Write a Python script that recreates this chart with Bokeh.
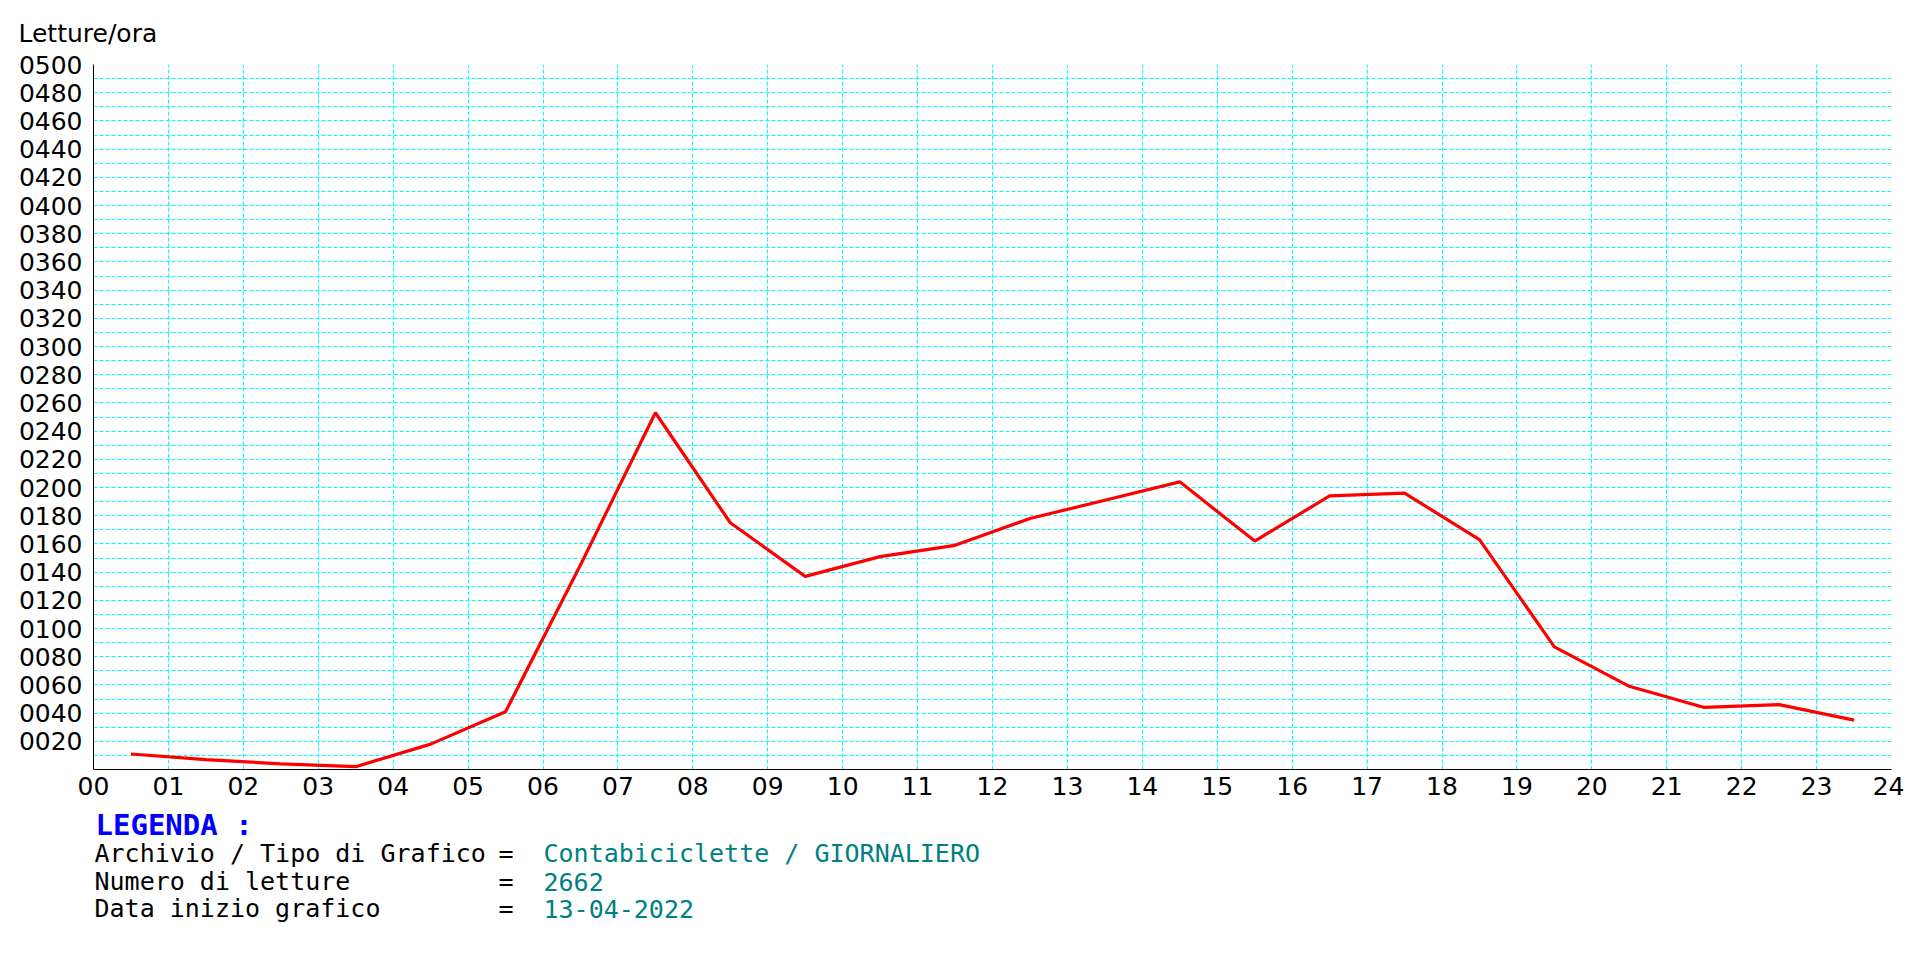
from bokeh.plotting import figure
from bokeh.layouts import column
from bokeh.models import Range1d, FixedTicker, Title
from bokeh.core.properties import value
from bokeh.embed import file_html
from bokeh.resources import INLINE

# ---- data ----
hours = [h + 0.5 for h in range(24)]
letture = [11, 7, 4, 2, 18, 41, 145, 253, 175, 137, 151, 159,
           178, 191, 204, 162, 194, 196, 163, 87, 59, 44, 46, 35]
x_ticks = list(range(0, 25))
x_labels = ["%02d" % h for h in x_ticks]
y_ticks = list(range(20, 501, 20))
y_minor = list(range(10, 500, 20))
y_labels = ["%04d" % v for v in y_ticks]

title_text = "Letture/ora"
legend_title = "LEGENDA :"
legend_keys = ["Archivio / Tipo di Grafico", "Numero di letture", "Data inizio grafico"]
legend_vals = ["Contabiciclette / GIORNALIERO", "2662", "13-04-2022"]

W = 1904
BL, BR = 93, 13
p = figure(width=W, height=804, output_backend="svg", toolbar_location=None,
           x_range=Range1d(0, 24), y_range=Range1d(0, 500),
           min_border_left=BL, min_border_right=BR,
           min_border_top=59, min_border_bottom=35)
p.outline_line_color = None

# title
p.title = Title(text=title_text, align="left", offset=-75, standoff=33,
                text_font="DejaVu Sans", text_font_size="25px",
                text_font_style="normal", text_color="black")

# axes
p.xaxis.ticker = FixedTicker(ticks=x_ticks)
p.xaxis.major_label_overrides = {t_: l for t_, l in zip(x_ticks, x_labels)}
p.yaxis.ticker = FixedTicker(ticks=y_ticks, minor_ticks=y_minor)
p.yaxis.major_label_overrides = {t_: l for t_, l in zip(y_ticks, y_labels)}
for ax in (p.xaxis, p.yaxis):
    ax.major_tick_line_color = None
    ax.minor_tick_line_color = None
    ax.major_tick_out = 0
    ax.major_tick_in = 0
    ax.minor_tick_out = 0
    ax.minor_tick_in = 0
    ax.axis_line_color = "black"
    ax.axis_line_width = 1
    ax.major_label_text_font = "DejaVu Sans"
    ax.major_label_text_font_size = "25px"
    ax.major_label_text_color = "black"
p.xaxis.major_label_standoff = 7
p.yaxis.major_label_standoff = 11

# grid
p.xgrid.ticker = FixedTicker(ticks=x_ticks)
p.ygrid.ticker = FixedTicker(ticks=y_ticks, minor_ticks=y_minor)
for g in (p.xgrid, p.ygrid):
    g.grid_line_color = "#00FFFF"
    g.grid_line_dash = "4 2"
    g.grid_line_width = 1
p.ygrid.minor_grid_line_color = "#00FFFF"
p.ygrid.minor_grid_line_dash = "4 2"
p.ygrid.minor_grid_line_width = 1

# series
p.line(hours, letture, line_color="#FF0000", line_width=3.2)

# ---- legend block (separate figure, page-pixel x, y from top) ----
LH = 140
q = figure(width=W, height=LH, output_backend="svg", toolbar_location=None,
           x_range=Range1d(BL, W - BR), y_range=Range1d(LH, 0),
           min_border_left=BL, min_border_right=BR,
           min_border_top=0, min_border_bottom=0)
q.axis.visible = False
q.grid.visible = False
q.outline_line_color = None

mono = value("DejaVu Sans Mono")
q.text(x=[95], y=[20], text=[legend_title], text_font=mono,
       text_font_size="29px", text_font_style="bold", text_color="#0000FF",
       text_baseline="middle")
rows_y = [49, 77, 104]
q.text(x=[94] * 3, y=rows_y, text=legend_keys, text_font=mono,
       text_font_size="25px", text_color="black", text_baseline="middle")
q.text(x=[498] * 3, y=rows_y, text=["="] * 3, text_font=mono,
       text_font_size="25px", text_color="black", text_baseline="middle")
q.text(x=[543] * 3, y=rows_y, text=legend_vals, text_font=mono,
       text_font_size="25px", text_color="#008080", text_baseline="middle")

layout = column(p, q, spacing=0)
open("out.html", "w").write(file_html(layout, INLINE))
